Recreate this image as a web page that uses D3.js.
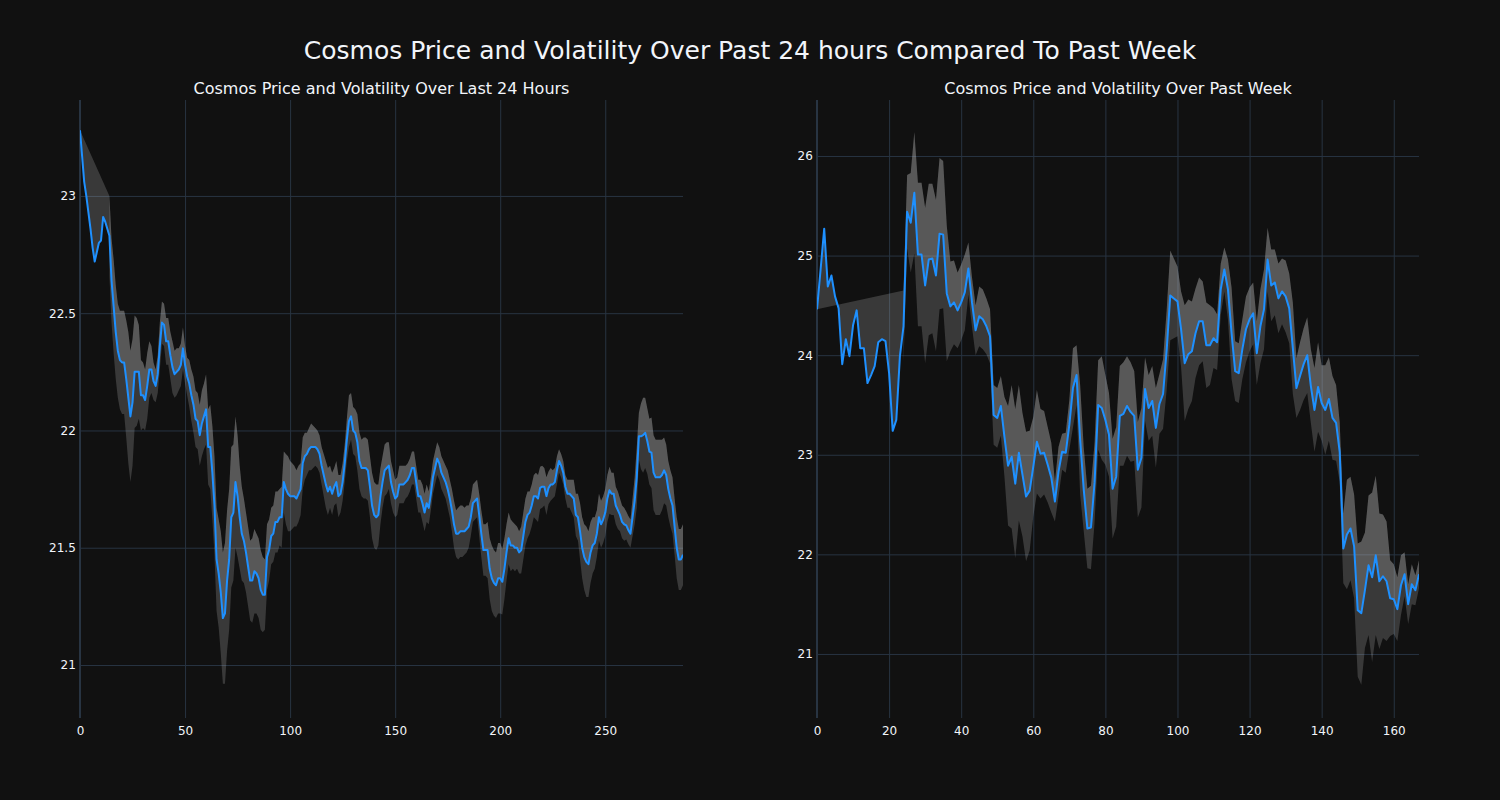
<!DOCTYPE html>
<html>
<head>
<meta charset="utf-8">
<script src="https://cdn.jsdelivr.net/npm/d3@7"></script>
<style>
  html, body { margin: 0; padding: 0; background: #111111; }
  svg { display: block; }
</style>
</head>
<body>
<svg id="chart" width="1500" height="800"></svg>
<script>
// ---------------- DATA ----------------
const mainTitle = "Cosmos Price and Volatility Over Past 24 hours Compared To Past Week";
const dayTitle = "Cosmos Price and Volatility Over Last 24 Hours";
const weekTitle = "Cosmos Price and Volatility Over Past Week";

// last 24 hours (5-minute steps), price
const dayPrice = [
 23.28,23.17,23.06,23.00,22.93,22.86,22.78,22.72,22.76,22.80,
 22.81,22.91,22.89,22.86,22.83,22.64,22.53,22.42,22.34,22.30,
 22.29,22.29,22.22,22.14,22.06,22.12,22.25,22.25,22.25,22.15,
 22.15,22.13,22.19,22.26,22.26,22.21,22.19,22.24,22.36,22.46,
 22.45,22.38,22.38,22.32,22.27,22.24,22.25,22.26,22.28,22.35,
 22.28,22.23,22.20,22.15,22.11,22.05,22.04,21.98,22.03,22.06,
 22.09,21.93,21.93,21.82,21.68,21.45,21.39,21.31,21.20,21.22,
 21.36,21.45,21.63,21.65,21.78,21.72,21.63,21.56,21.53,21.48,
 21.42,21.36,21.36,21.40,21.39,21.37,21.32,21.30,21.30,21.46,
 21.49,21.55,21.56,21.61,21.61,21.63,21.63,21.78,21.75,21.73,
 21.72,21.72,21.72,21.71,21.73,21.75,21.86,21.89,21.90,21.92,
 21.93,21.93,21.93,21.92,21.90,21.85,21.81,21.77,21.74,21.76,
 21.73,21.76,21.78,21.72,21.73,21.78,21.86,21.96,22.04,22.06,
 22.00,21.99,21.95,21.87,21.84,21.84,21.84,21.83,21.76,21.68,
 21.64,21.63,21.64,21.72,21.78,21.83,21.84,21.85,21.78,21.74,
 21.71,21.72,21.77,21.77,21.77,21.78,21.79,21.81,21.84,21.84,
 21.78,21.72,21.72,21.69,21.65,21.69,21.67,21.73,21.80,21.84,
 21.88,21.86,21.82,21.80,21.78,21.75,21.71,21.66,21.60,21.56,
 21.56,21.57,21.57,21.57,21.58,21.59,21.63,21.69,21.70,21.71,
 21.64,21.56,21.49,21.49,21.49,21.41,21.37,21.35,21.34,21.37,
 21.37,21.355,21.41,21.48,21.54,21.51,21.51,21.50,21.50,21.48,
 21.49,21.55,21.61,21.64,21.65,21.68,21.72,21.72,21.71,21.755,
 21.76,21.76,21.72,21.755,21.77,21.77,21.78,21.83,21.87,21.85,
 21.82,21.76,21.73,21.73,21.72,21.71,21.64,21.63,21.57,21.50,
 21.46,21.44,21.43,21.48,21.51,21.52,21.56,21.63,21.60,21.62,
 21.65,21.71,21.745,21.73,21.73,21.68,21.66,21.64,21.61,21.60,
 21.595,21.575,21.56,21.63,21.70,21.80,21.975,21.975,21.98,21.99,
 21.955,21.91,21.905,21.82,21.80,21.80,21.80,21.81,21.83,21.81,
 21.75,21.71,21.68,21.59,21.50,21.45,21.45,21.47
];
// last 24 hours, volatility band half-width (null before the rolling window fills)
const dayVol = [
 null,null,null,null,null,null,null,null,null,null,
 null,null,null,null,0.17,0.18,0.20,0.20,0.20,0.21,
 0.22,0.22,0.25,0.28,0.28,0.27,0.24,0.23,0.20,0.15,
 0.14,0.13,0.14,0.12,0.10,0.08,0.07,0.08,0.10,0.09,
 0.09,0.10,0.10,0.10,0.11,0.10,0.10,0.09,0.09,0.09,
 0.08,0.08,0.10,0.11,0.12,0.12,0.12,0.13,0.14,0.14,
 0.15,0.16,0.18,0.20,0.21,0.22,0.23,0.26,0.28,0.30,
 0.30,0.30,0.30,0.29,0.28,0.26,0.22,0.20,0.18,0.17,
 0.17,0.17,0.18,0.18,0.17,0.17,0.17,0.16,0.15,0.14,
 0.13,0.12,0.12,0.13,0.13,0.12,0.13,0.13,0.15,0.16,
 0.15,0.14,0.13,0.12,0.12,0.11,0.11,0.10,0.09,0.09,
 0.10,0.09,0.08,0.08,0.08,0.08,0.09,0.10,0.10,0.09,
 0.09,0.08,0.09,0.09,0.08,0.08,0.08,0.09,0.11,0.10,
 0.10,0.10,0.12,0.12,0.12,0.13,0.13,0.13,0.13,0.14,
 0.14,0.14,0.13,0.12,0.11,0.11,0.11,0.10,0.09,0.09,
 0.08,0.08,0.08,0.08,0.08,0.07,0.07,0.07,0.07,0.07,
 0.07,0.07,0.07,0.08,0.08,0.08,0.07,0.07,0.07,0.07,
 0.07,0.07,0.07,0.07,0.07,0.08,0.08,0.09,0.10,0.10,
 0.11,0.11,0.11,0.10,0.10,0.09,0.08,0.08,0.08,0.08,
 0.09,0.10,0.11,0.11,0.12,0.13,0.14,0.14,0.14,0.15,
 0.15,0.14,0.13,0.12,0.11,0.11,0.10,0.10,0.09,0.09,
 0.10,0.10,0.10,0.10,0.09,0.09,0.09,0.10,0.10,0.09,
 0.09,0.08,0.08,0.07,0.07,0.06,0.06,0.06,0.05,0.05,
 0.05,0.05,0.06,0.06,0.07,0.08,0.09,0.10,0.12,0.13,
 0.14,0.15,0.14,0.13,0.12,0.11,0.10,0.10,0.10,0.10,
 0.10,0.10,0.10,0.09,0.09,0.08,0.08,0.07,0.07,0.07,
 0.06,0.06,0.06,0.08,0.10,0.13,0.10,0.14,0.16,0.15,
 0.14,0.14,0.15,0.16,0.16,0.16,0.16,0.15,0.14,0.13,
 0.12,0.12,0.12,0.12,0.13,0.13,0.13,0.13
];

// past week (hourly), price
const weekPrice = [
 24.46,24.86,25.27,24.69,24.80,24.59,24.47,23.91,24.16,23.99,
 24.30,24.45,24.07,24.07,23.72,23.80,23.89,24.13,24.16,24.14,
 23.82,23.24,23.35,23.99,24.29,25.44,25.33,25.63,25.01,25.01,
 24.70,24.96,24.97,24.80,25.22,25.21,24.62,24.49,24.53,24.45,
 24.53,24.63,24.87,24.53,24.25,24.39,24.36,24.29,24.19,23.40,
 23.37,23.49,23.18,22.89,22.98,22.71,23.02,22.80,22.58,22.64,
 22.88,23.13,23.01,23.02,22.90,22.77,22.53,22.83,23.03,23.02,
 23.30,23.67,23.80,23.15,22.65,22.26,22.27,22.72,23.50,23.47,
 23.35,23.20,22.66,22.78,23.39,23.41,23.49,23.43,23.39,22.85,
 22.97,23.66,23.47,23.54,23.27,23.51,23.61,24.05,24.60,24.57,
 24.54,24.26,23.92,24.01,24.04,24.22,24.34,24.34,24.10,24.10,
 24.17,24.13,24.66,24.86,24.66,24.22,23.84,23.82,24.06,24.26,
 24.36,24.42,24.02,24.29,24.46,24.96,24.70,24.73,24.57,24.64,
 24.59,24.47,24.07,23.67,23.79,23.91,24.00,23.69,23.45,23.68,
 23.52,23.45,23.56,23.37,23.32,23.03,22.06,22.20,22.26,22.08,
 21.44,21.41,21.64,21.89,21.77,21.99,21.73,21.78,21.73,21.56,
 21.55,21.45,21.69,21.80,21.50,21.70,21.64,21.80
];
// past week, volatility band half-width
const weekVol = [
 null,null,null,null,null,null,null,null,null,null,
 null,null,null,null,null,null,null,null,null,null,
 null,null,null,null,0.36,0.37,0.50,0.61,0.72,0.72,
 0.78,0.76,0.75,0.76,0.76,0.74,0.68,0.45,0.42,0.38,
 0.38,0.38,0.26,0.25,0.25,0.30,0.30,0.28,0.27,0.30,
 0.30,0.30,0.40,0.60,0.72,0.75,0.68,0.62,0.65,0.60,
 0.50,0.52,0.45,0.42,0.38,0.35,0.20,0.25,0.18,0.20,
 0.25,0.40,0.30,0.55,0.42,0.40,0.42,0.40,0.45,0.52,
 0.45,0.42,0.50,0.50,0.50,0.52,0.50,0.50,0.45,0.48,
 0.50,0.32,0.33,0.35,0.40,0.30,0.35,0.40,0.45,0.40,
 0.35,0.38,0.58,0.55,0.50,0.45,0.44,0.40,0.43,0.40,
 0.30,0.28,0.26,0.22,0.30,0.46,0.30,0.30,0.30,0.33,
 0.32,0.31,0.32,0.37,0.40,0.32,0.36,0.33,0.35,0.33,
 0.36,0.35,0.46,0.30,0.34,0.36,0.38,0.37,0.42,0.45,
 0.38,0.45,0.42,0.42,0.38,0.30,0.35,0.55,0.52,0.52,
 0.67,0.72,0.58,0.70,0.85,0.80,0.68,0.62,0.60,0.38,
 0.35,0.32,0.30,0.22,0.20,0.20,0.15,0.14
];

// axis ticks
const dayXTicks = [0, 50, 100, 150, 200, 250];
const dayYTicks = [21, 21.5, 22, 22.5, 23];
const weekXTicks = [0, 20, 40, 60, 80, 100, 120, 140, 160];
const weekYTicks = [21, 22, 23, 24, 25, 26];

// ---------------- DRAWING ----------------
const svg = d3.select("#chart");
const BG = "#111111", GRID = "#283442", TXT = "#f2f5fa";
const LINE = "#1e90ff", FILL = "rgba(200,200,200,0.22)";
const FONT = "'DejaVu Sans', 'Open Sans', Verdana, sans-serif";

svg.append("rect").attr("width", 1500).attr("height", 800).attr("fill", BG);

svg.append("text")
  .attr("x", 750).attr("y", 59)
  .attr("text-anchor", "middle")
  .attr("fill", TXT)
  .style("font-family", FONT).style("font-size", "25px")
  .text(mainTitle);

function panel(cfg) {
  const { x0, x1, y0, y1, xDomain, yDomain, price, vol, xTicks, yTicks, title } = cfg;
  const x = d3.scaleLinear().domain(xDomain).range([x0, x1]);
  const y = d3.scaleLinear().domain(yDomain).range([y1, y0]);
  const g = svg.append("g");

  // grid
  g.append("g").attr("transform", `translate(0,${y1})`)
    .call(d3.axisBottom(x).tickValues(xTicks).tickSize(-(y1 - y0)).tickFormat(d3.format("d")))
    .call(a => a.select(".domain").remove())
    .call(a => a.selectAll("line").attr("stroke", GRID).attr("stroke-width", 1))
    .call(a => a.selectAll("text").attr("fill", TXT).attr("dy", "1.2em")
      .style("font-family", FONT).style("font-size", "12px"));
  g.append("g").attr("transform", `translate(${x0},0)`)
    .call(d3.axisLeft(y).tickValues(yTicks).tickSize(-(x1 - x0)).tickFormat(d => String(d)))
    .call(a => a.select(".domain").remove())
    .call(a => a.selectAll("line").attr("stroke", GRID).attr("stroke-width", 1))
    .call(a => a.selectAll("text").attr("fill", TXT).attr("dx", "-0.1em")
      .style("font-family", FONT).style("font-size", "12px"));
  // zero line at x = 0
  g.append("line").attr("x1", x(0)).attr("x2", x(0)).attr("y1", y0).attr("y2", y1)
    .attr("stroke", GRID).attr("stroke-width", 2);

  // data points
  const pts = price.map((p, i) => ({ i, p, v: vol[i] }));
  const band = pts.filter(d => d.v != null);
  const up = band.map(d => [x(d.i), y(d.p + d.v)]);
  const lo = band.map(d => [x(d.i), y(d.p - d.v)]);
  const pr = pts.map(d => [x(d.i), y(d.p)]);

  const clipId = "clip" + Math.round(x0);
  svg.append("clipPath").attr("id", clipId).append("rect")
    .attr("x", x0).attr("y", y0).attr("width", x1 - x0).attr("height", y1 - y0);
  const plot = g.append("g").attr("clip-path", `url(#${clipId})`);

  // fill between upper band and price (tonexty style)
  plot.append("path")
    .attr("d", d3.line()(up.concat(pr.slice().reverse())) + "Z")
    .attr("fill", FILL).attr("stroke", "none");
  // fill between lower band and upper band
  plot.append("path")
    .attr("d", d3.line()(lo.concat(up.slice().reverse())) + "Z")
    .attr("fill", FILL).attr("stroke", "none");
  // price line
  plot.append("path")
    .attr("d", d3.line()(pr))
    .attr("fill", "none").attr("stroke", LINE).attr("stroke-width", 2)
    .attr("stroke-linejoin", "round");

  svg.append("text")
    .attr("x", (x0 + x1) / 2).attr("y", 94)
    .attr("text-anchor", "middle").attr("fill", TXT)
    .style("font-family", FONT).style("font-size", "16px")
    .text(title);
}

panel({ x0: 80, x1: 683, y0: 100, y1: 718, xDomain: [0, 287], yDomain: [20.774, 23.409],
  price: dayPrice, vol: dayVol, xTicks: dayXTicks, yTicks: dayYTicks, title: dayTitle });
panel({ x0: 817, x1: 1419, y0: 100, y1: 718, xDomain: [0, 167], yDomain: [20.357, 26.562],
  price: weekPrice, vol: weekVol, xTicks: weekXTicks, yTicks: weekYTicks, title: weekTitle });
</script>
</body>
</html>
